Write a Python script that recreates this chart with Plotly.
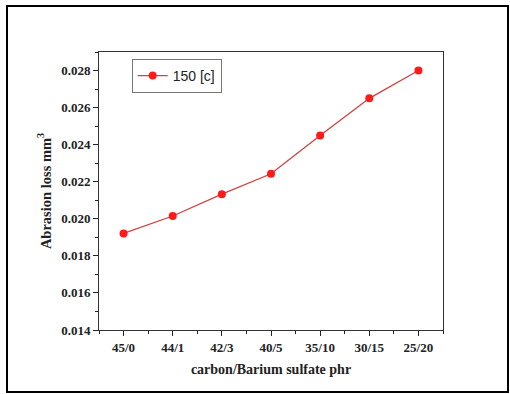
import plotly.graph_objects as go

categories = ["45/0", "44/1", "42/3", "40/5", "35/10", "30/15", "25/20"]
abrasion_loss = [0.01921, 0.02015, 0.02133, 0.02243, 0.0245, 0.0265, 0.0280]
series_name = "150 [c]"
y_ticks = [0.014, 0.016, 0.018, 0.020, 0.022, 0.024, 0.026, 0.028]

L, R, T, B = 99, 67, 52, 64
W, H = 510, 394
pw, ph = W - L - R, H - T - B

fig = go.Figure()
fig.add_trace(go.Scatter(
    x=list(range(len(categories))), y=abrasion_loss, name=series_name,
    mode="lines+markers",
    line=dict(color="#d2403f", width=1.3),
    marker=dict(color="#ff1a1a", size=8),
    showlegend=True,
))

tickfont = dict(family="Liberation Serif", size=13, color="#222")
fig.update_layout(
    width=W, height=H,
    margin=dict(l=L, r=R, t=T, b=B),
    paper_bgcolor="white", plot_bgcolor="white",
    showlegend=True,
    legend=dict(x=0.095, y=0.975, xanchor="left", yanchor="top",
                bordercolor="#777", borderwidth=1, bgcolor="white",
                font=dict(family="Liberation Sans", size=14, color="#222"),
                itemwidth=30, tracegroupgap=0),
    xaxis=dict(
        range=[-0.5, 6.5], tickmode="array",
        tickvals=list(range(len(categories))),
        ticktext=[f"<b>{c}</b>" for c in categories],
        ticks="outside", ticklen=5, tickwidth=1, tickcolor="#222",
        showline=True, linecolor="#333", linewidth=1, mirror=True,
        showgrid=False, zeroline=False, tickfont=tickfont,
        minor=dict(tickvals=[i + 0.5 for i in range(-1, len(categories))],
                   ticks="outside", ticklen=3, tickcolor="#222"),
        title=dict(text="<b>carbon/Barium sulfate phr</b>", standoff=10,
                   font=dict(family="Liberation Serif", size=14, color="#222")),
    ),
    yaxis=dict(
        range=[0.014, 0.029], tickmode="array", tickvals=y_ticks,
        ticktext=[f"<b>{v:.3f}</b>" for v in y_ticks],
        ticks="outside", ticklen=5, tickwidth=1, tickcolor="#222",
        showline=True, linecolor="#333", linewidth=1, mirror=True,
        showgrid=False, zeroline=False, tickfont=tickfont,
        minor=dict(dtick=0.001, ticks="outside", ticklen=3, tickcolor="#222"),
        title=dict(text="<b>Abrasion loss mm<sup>3</sup></b>", standoff=6,
                   font=dict(family="Liberation Serif", size=14.5, color="#222")),
    ),
)

# outer frame
x0 = (7 - L) / pw
x1 = (508 - L) / pw
y1 = (T + ph - 6) / ph
y0 = (T + ph - 392) / ph
fig.add_shape(type="rect", xref="paper", yref="paper", x0=x0, x1=x1, y0=y0, y1=y1,
              line=dict(color="black", width=2), fillcolor="rgba(0,0,0,0)", layer="below")

fig.write_html("out.html")
